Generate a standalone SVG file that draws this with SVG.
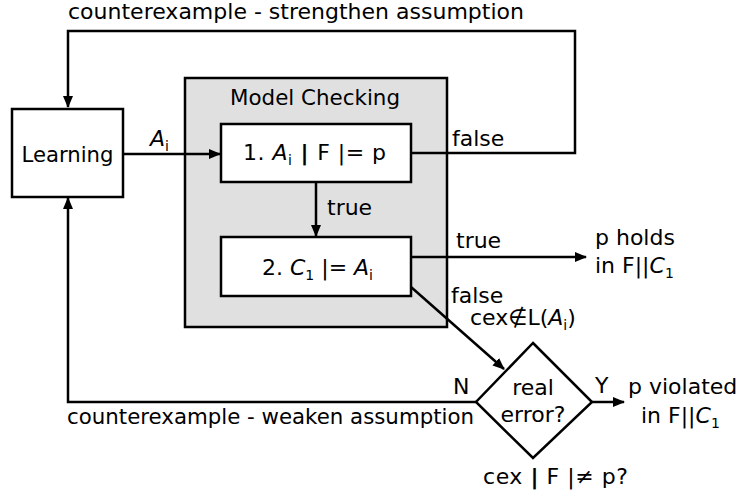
<svg xmlns="http://www.w3.org/2000/svg" width="739" height="495" viewBox="0 0 739 495">
<style>
text{font-family:"DejaVu Sans","Liberation Sans",sans-serif;font-size:22px;fill:#000}
.box{fill:#fff;stroke:#000;stroke-width:2.5}
.gray{fill:#e0e0e0;stroke:#000;stroke-width:2.5}
.conn{fill:none;stroke:#000;stroke-width:2.5}
.it{font-style:italic}
.sub{font-size:14px}
.mid{text-anchor:middle}
</style>
<defs>
<marker id="arr" markerWidth="12" markerHeight="10" refX="11" refY="5" orient="auto" markerUnits="userSpaceOnUse">
<path d="M0,0 L12,5 L0,10 Z" fill="#000"/>
</marker>
</defs>
<rect width="739" height="495" fill="#fff"/>

<g id="model-checking">
<rect class="gray" x="185" y="78" width="262" height="249"/>
<text x="315" y="105" class="mid" textLength="170" lengthAdjust="spacingAndGlyphs">Model Checking</text>
</g>

<g id="learning">
<rect class="box" x="12" y="109" width="111" height="88"/>
<text x="67.5" y="162" class="mid" textLength="92" lengthAdjust="spacingAndGlyphs">Learning</text>
</g>

<g id="check1">
<rect class="box" x="221" y="124" width="190" height="58"/>
<text x="243" y="160" textLength="143">1. <tspan class="it">A</tspan><tspan class="sub" dy="5">i</tspan><tspan dy="-5" font-weight="bold">  |  </tspan>F |= p</text>
</g>

<g id="check2">
<rect class="box" x="221" y="237" width="190" height="59"/>
<text x="262" y="275" textLength="111">2. <tspan class="it">C</tspan><tspan class="sub" dy="5">1</tspan><tspan dy="-5"> |= </tspan><tspan class="it">A</tspan><tspan class="sub" dy="5">i</tspan></text>
</g>

<g id="real-error">
<polygon class="box" points="533,343 592,402 533,458 476,402"/>
<text x="533" y="395" class="mid">real</text>
<text x="533" y="422" class="mid">error?</text>
</g>

<g id="p-holds">
<text x="595" y="245">p holds</text>
<text x="595" y="273">in F||<tspan class="it">C</tspan><tspan class="sub" dy="5">1</tspan></text>
</g>

<g id="p-violated">
<text x="628" y="394">p violated</text>
<text x="641" y="423">in F||<tspan class="it">C</tspan><tspan class="sub" dy="5">1</tspan></text>
</g>

<g id="connectors">
<path class="conn" d="M411,153 H575 V31 H68 V107" marker-end="url(#arr)"/>
<path class="conn" d="M123,154 H220" marker-end="url(#arr)"/>
<path class="conn" d="M316,182 V236" marker-end="url(#arr)"/>
<path class="conn" d="M411,257 H586" marker-end="url(#arr)"/>
<path class="conn" d="M411,287 L504,369" marker-end="url(#arr)"/>
<path class="conn" d="M476,402 H68 V198" marker-end="url(#arr)"/>
<path class="conn" d="M592,402 H624" marker-end="url(#arr)"/>
</g>

<g id="labels">
<text x="68" y="19" textLength="456" lengthAdjust="spacingAndGlyphs">counterexample - strengthen assumption</text>
<text x="150" y="146" class="it">A<tspan class="sub" dy="5" font-style="normal">i</tspan></text>
<text x="452" y="146">false</text>
<text x="327" y="215">true</text>
<text x="456" y="248">true</text>
<text x="451" y="303">false</text>
<text x="470" y="325">cex∉L(<tspan class="it">A</tspan><tspan class="sub" dy="5">i</tspan><tspan dy="-5">)</tspan></text>
<text x="453" y="394">N</text>
<text x="595" y="393">Y</text>
<text x="67" y="424" textLength="407" lengthAdjust="spacingAndGlyphs">counterexample - weaken assumption</text>
<text x="483" y="484" textLength="145">cex <tspan font-weight="bold">|</tspan> F |≠ p?</text>
</g>
</svg>
